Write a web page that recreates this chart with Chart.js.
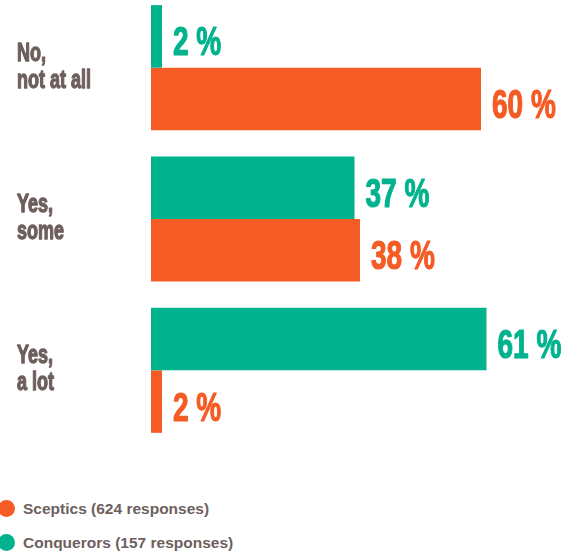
<!DOCTYPE html>
<html>
<head>
<meta charset="utf-8">
<script src="https://cdn.jsdelivr.net/npm/chart.js@4"></script>
<style>
    html, body { margin: 0; padding: 0; background: #fff; }
    body { width: 575px; height: 552px; position: relative; overflow: hidden; }
    #wrap { position: absolute; left: 0; top: -8px; width: 575px; height: 454px; }
    #legend { position: absolute; left: 0; top: 498px; font: bold 15.5px "Liberation Sans", Arial, sans-serif; color: #6d5f5d; }
    .item { position: relative; height: 34px; line-height: 22px; padding-left: 23px; }
    .dot { position: absolute; left: -2px; top: 2px; width: 17px; height: 17px; border-radius: 50%; }
</style>
</head>
<body>
<div id="wrap"><canvas id="chart"></canvas></div>
<div id="legend"></div>
<script>
const categories = [['No,', 'not at all'], ['Yes,', 'some'], ['Yes,', 'a lot']];
const seriesNames = ['Conquerors (157 responses)', 'Sceptics (624 responses)'];
const conquerors = [2, 37, 61];
const sceptics = [60, 38, 2];
const seriesColors = ['#00b38e', '#f55b24'];
const textColor = '#6d5f5d';
const condensedFont = '"Liberation Sans", Arial, sans-serif';

// the original uses a heavy condensed display face, so squeeze Arial-metric text and thicken it
function squeezedText(ctx, text, x, y, size, squeeze, color, weight) {
    ctx.save();
    ctx.translate(x, y);
    ctx.scale(squeeze, 1);
    ctx.font = 'bold ' + size + 'px ' + condensedFont;
    ctx.fillStyle = color;
    ctx.strokeStyle = color;
    ctx.lineWidth = weight;
    ctx.lineJoin = 'round';
    ctx.textBaseline = 'alphabetic';
    ctx.fillText(text, 0, 0);
    ctx.strokeText(text, 0, 0);
    ctx.restore();
}

const labelsPlugin = {
    id: 'labelsPlugin',
    afterDatasetsDraw(chart) {
        const ctx = chart.ctx;
        chart.data.datasets.forEach((ds, i) => {
            chart.getDatasetMeta(i).data.forEach((bar, j) => {
                squeezedText(ctx, ds.data[j] + ' %', bar.x + 11, bar.y + 19, 40, 0.7, ds.backgroundColor, 1.2);
            });
        });
        const yScale = chart.scales.y;
        chart.data.labels.forEach((lines, i) => {
            const cy = yScale.getPixelForTick(i);
            lines.forEach((line, k) => {
                squeezedText(ctx, line, 17, cy - 7 + k * 27, 25, 0.72, textColor, 1.3);
            });
        });
    }
};

new Chart(document.getElementById('chart'), {
    type: 'bar',
    data: {
        labels: categories,
        datasets: [
            { label: seriesNames[0], data: conquerors, backgroundColor: seriesColors[0] },
            { label: seriesNames[1], data: sceptics, backgroundColor: seriesColors[1] },
        ],
    },
    options: {
        indexAxis: 'y',
        responsive: true,
        maintainAspectRatio: false,
        animation: false,
        layout: { autoPadding: false, padding: { left: 17, right: 39, top: 0, bottom: 0 } },
        datasets: { bar: { categoryPercentage: 0.826, barPercentage: 1.0 } },
        plugins: { legend: { display: false }, tooltip: { enabled: false } },
        scales: {
            x: { display: false, min: 0, max: 70 },
            y: {
                grid: { display: false },
                border: { display: false },
                ticks: { display: false },
                afterFit(scale) { scale.width = 134; },
            },
        },
    },
    plugins: [labelsPlugin],
});

const legend = document.getElementById('legend');
[1, 0].forEach(i => {
    const item = document.createElement('div');
    item.className = 'item';
    item.innerHTML = '<span class="dot" style="background:' + seriesColors[i] + '"></span>' + seriesNames[i];
    legend.appendChild(item);
});
</script>
</body>
</html>
